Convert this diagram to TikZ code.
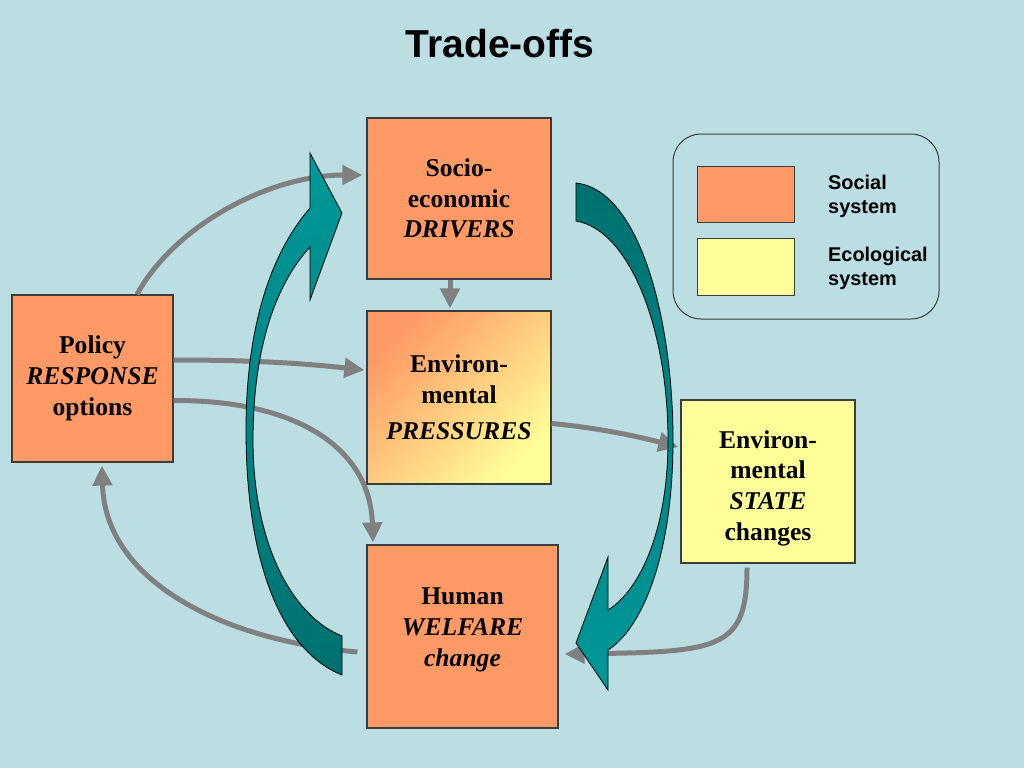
\documentclass[tikz,border=0pt]{standalone}
\usepackage{fontspec}
\setmainfont{Liberation Serif}
\newfontfamily\arialf{Liberation Sans}
\usetikzlibrary{arrows.meta}
\definecolor{bg}{RGB}{186,222,226}
\definecolor{soc}{RGB}{255,153,102}
\definecolor{eco}{RGB}{255,255,153}
\definecolor{conn}{RGB}{128,128,128}
\definecolor{tealA}{RGB}{0,153,153}
\definecolor{tealB}{RGB}{0,112,112}
\definecolor{edgec}{RGB}{60,60,60}
\begin{document}
\begin{tikzpicture}[x=1pt,y=-1pt,
  box/.style={draw=edgec, line width=1.2pt, rectangle, align=center, inner sep=0pt,
    font=\fontsize{25.6}{30.7}\selectfont\bfseries},
  boxtext/.style={align=center, inner sep=0pt, font=\fontsize{25.6}{30.7}\selectfont\bfseries},
  link/.style={draw=conn, line width=5pt, -{Triangle[length=20pt,width=19pt]}},
  bigarrow/.style={draw=black, line width=0.8pt, line join=miter},
  legbox/.style={draw=edgec, line width=1pt, rectangle, inner sep=0pt},
  legtext/.style={anchor=west, align=left, inner sep=0pt,
    font=\arialf\fontsize{19.9}{23.9}\selectfont\bfseries}]
\fill[bg] (0,0) rectangle (1024,768);
\useasboundingbox (0,0) rectangle (1024,768);

% title
\node[font=\arialf\fontsize{39}{47}\selectfont\bfseries] (title) at (500,44) {Trade-offs};

% boxes
\node[box, fill=soc, minimum width=184pt, minimum height=161pt] (drv) at (459,198.5)
  {Socio-\\economic\\\textit{DRIVERS}};
\node[box, top color=soc, bottom color=eco, shading angle=45, minimum width=184pt, minimum height=173pt] (prs) at (459,397.5)
  {Environ-\\mental\\[6pt]\textit{PRESSURES}};
\node[box, fill=soc, minimum width=161pt, minimum height=167pt] (pol) at (92.5,378.5)
  {Policy\\\textit{RESPONSE}\\options};
\node[box, fill=eco, minimum width=174pt, minimum height=163pt] (st) at (768,481.5) {};
\node[boxtext] (stt) at (768,488) {Environ-\\mental\\\textit{STATE}\\changes};
\node[box, fill=soc, minimum width=191pt, minimum height=183pt] (wel) at (462.5,636.5) {};
\node[boxtext] (welt) at (462.5,630) {Human\\\textit{WELFARE}\\\textit{change}};

% legend
\node[draw=edgec, line width=1pt, rounded corners=28pt, minimum width=266pt, minimum height=185pt] (leg) at (806,226.5) {};
\node[legbox, fill=soc, minimum width=97pt, minimum height=56pt] (lsoc) at (745.5,194) {};
\node[legbox, fill=eco, minimum width=97pt, minimum height=57pt] (leco) at (745.5,266.5) {};
\node[legtext] (lsoct) at (828,196) {Social\\system};
\node[legtext] (lecot) at (828,268) {Ecological\\system};

% gray connectors
\draw[link] ([xshift=44.5pt]pol.north) .. controls (175,225) and (270,175) .. ([yshift=23.5pt,xshift=-4pt]drv.west);
\draw[link] ([yshift=18.5pt]pol.east) .. controls (250,360) and (300,363) .. ([yshift=27.5pt,xshift=-2pt]prs.west);
\draw[link] ([yshift=-22pt]pol.east) .. controls (300,400) and (370,450) .. ([xshift=-89.5pt,yshift=2pt]wel.north);
\draw[link] ([xshift=-9pt,yshift=-15.5pt]wel.west) .. controls (220,640) and (105,580) .. ([xshift=9.5pt,yshift=-3pt]pol.south);
\draw[link] ([xshift=-9pt]drv.south) -- ([xshift=-9pt,yshift=2pt]prs.north);
\draw[link] ([yshift=-26pt]prs.east) .. controls (600,428) and (640,437) .. ([yshift=34.5pt,xshift=-2pt]st.west);
\draw[link] ([xshift=-21pt,yshift=-4pt]st.south) .. controls (747,650) and (720,652) .. ([xshift=6pt,yshift=-17.5pt]wel.east);

% big teal arrows
\path[bigarrow, top color=tealA, bottom color=tealB]
  (342,675) -- (342,636)
  .. controls (290,615) and (253,540) .. (253,440)
  .. controls (253,350) and (275,285) .. (310,247)
  -- (310,300) -- (342,213) -- (310,153) -- (310,208)
  .. controls (265,260) and (246,340) .. (246,430)
  .. controls (246,560) and (280,650) .. (342,675) -- cycle;
\path[bigarrow, top color=tealB, bottom color=tealA]
  (576,183)
  .. controls (640,190) and (673,320) .. (673,440)
  .. controls (673,560) and (640,630) .. (608,650)
  -- (608,690) -- (576,643) -- (608,557) -- (608,610)
  .. controls (640,590) and (668,530) .. (668,440)
  .. controls (668,330) and (630,230) .. (576,221) -- cycle;
\end{tikzpicture}
\end{document}
